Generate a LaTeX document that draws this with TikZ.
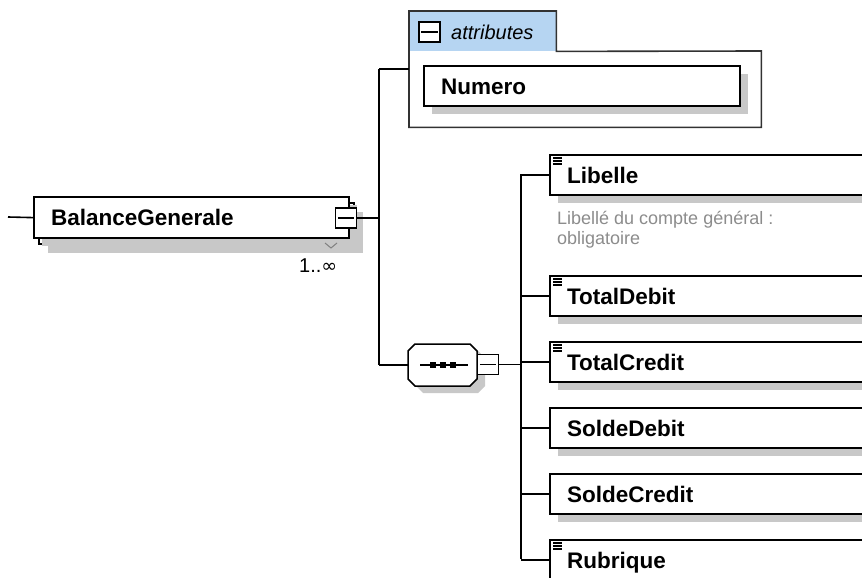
\documentclass[tikz,border=0pt]{standalone}
\usepackage{fontspec}
\setmainfont{Liberation Sans}
\newfontfamily\symfont{DejaVu Sans}
\usetikzlibrary{shadows,calc}
\definecolor{shadowgray}{RGB}{200,200,200}
\definecolor{tabblue}{RGB}{182,213,242}
\definecolor{descgray}{RGB}{140,140,140}
\definecolor{panelline}{RGB}{50,50,50}
\begin{document}
\begin{tikzpicture}[x=1pt,y=-1pt,
  conn/.style={draw=black, line width=1.6pt},
  boxshadow/.style={drop shadow={shadow xshift=#1, shadow yshift=-#1, fill=shadowgray, opacity=1}},
  elembox/.style={draw=black, line width=2.2pt, fill=white, rectangle, anchor=north west,
     minimum height=40pt, inner ysep=0pt, inner xsep=17pt, align=left,
     text height=16pt, text depth=0pt, font=\fontsize{22.5}{26}\selectfont\bfseries,
     boxshadow=8pt},
  togglebox/.style={draw=black, line width=1.5pt, fill=white, rectangle,
     minimum width=21pt, minimum height=20pt, inner sep=0pt},
  minusline/.style={line width=1.5pt},
  hidden/.style={rectangle, inner sep=0pt, anchor=north west},
  desctext/.style={anchor=north west, align=left, inner sep=0pt, text=descgray,
     font=\fontsize{18}{20}\selectfont},
  optmark/.style={line width=1.1pt}
]
\useasboundingbox (0,0) rectangle (862,578);
\fill[white] (0,0) rectangle (862,578);
\clip (0,0) rectangle (862,578);

% ---------- root element ----------
\coordinate (rootin) at (8,217);
\node[hidden, draw=black, line width=2.2pt, fill=white, minimum width=315pt, minimum height=41pt, boxshadow=9pt] (bgback) at (38,202) {};
\node[elembox, text width=281pt, minimum height=41pt, drop shadow={opacity=0}] (bg) at (33,196) {BalanceGenerale};
\draw[line width=1pt, draw=gray] (325,243) -- (331,248) -- (337,243);
\node[togglebox] (bgtoggle) at (346,218) {};
\draw[minusline] ($(bgtoggle.west)+(3,0)$) -- ($(bgtoggle.east)+(-3,0)$);
\node[anchor=base west, inner sep=0pt, font=\fontsize{20}{24}\selectfont] (card) at (299,272) {1..{\symfont\fontsize{19}{22}\selectfont ∞}};
\draw[conn] (rootin) -- (bg.west);

% ---------- trunk 1 ----------
\coordinate (ta) at (379,69);
\coordinate (tb) at (379,365);
\draw[conn] (bgtoggle.east) -- (bgtoggle.east -| ta);
\draw[conn] (ta) -- (tb);

% ---------- attributes panel ----------
\node[hidden, fill=tabblue, minimum width=147pt, minimum height=40pt] (attrtab) at (409,11) {};
\node[hidden, minimum width=352pt, minimum height=76pt] (attrbody) at (409,51) {};
\draw[panelline, line width=1.6pt] (attrbody.south west) -- (attrtab.north west) -- (attrtab.north east)
   -- (attrtab.south east) -- (attrbody.north east) -- (attrbody.south east) -- cycle;
\node[togglebox] (attrtoggle) at (429.5,32) {};
\draw[minusline] ($(attrtoggle.west)+(3,0)$) -- ($(attrtoggle.east)+(-3,0)$);
\node[anchor=west, inner sep=0pt, font=\fontsize{20}{24}\selectfont\itshape] (attrlabel) at (451,32) {attributes};
\draw[conn] (ta) -- (ta -| attrbody.west);
\node[elembox, text width=282pt] (numero) at (423,65) {Numero};

% ---------- sequence compositor ----------
\node[rectangle, minimum width=69pt, minimum height=42pt, inner sep=0pt] (seq) at (442.5,365) {};
\begin{scope}[shift={(seq.center)}]
  \fill[shadowgray, shift={(8,7)}] (-27.5,-21) -- (27.5,-21) -- (34.5,-14) -- (34.5,14) -- (27.5,21)
     -- (-27.5,21) -- (-34.5,14) -- (-34.5,-14) -- cycle;
  \draw[line width=1.5pt, fill=white] (-27.5,-21) -- (27.5,-21) -- (34.5,-14) -- (34.5,14) -- (27.5,21)
     -- (-27.5,21) -- (-34.5,14) -- (-34.5,-14) -- cycle;
  \draw[line width=1.5pt] (-22.5,0) -- (25.5,0);
  \foreach \sx in {-9.5,0.5,10.5} \fill[black] (\sx-2.7,-2.7) rectangle (\sx+2.7,2.7);
\end{scope}
\node[togglebox] (seqtoggle) at (488,364.5) {};
\draw[minusline] ($(seqtoggle.west)+(3,0)$) -- ($(seqtoggle.east)+(-3,0)$);
\draw[conn] (tb) -- (seq.west);

% ---------- trunk 2 ----------
\coordinate (ua) at (521,174);
\coordinate (ub) at (521,559);
\draw[conn] (seqtoggle.east) -- (seqtoggle.east -| ua);
\draw[conn] (ua) -- (ub);

% ---------- children ----------
\node[elembox, text width=300pt] (libelle) at (549,154) {Libelle};
\node[desctext] (libdesc) at (557,211.5) {Libellé du compte général :\\obligatoire};
\node[elembox, text width=300pt] (totaldebit) at (549,275) {TotalDebit};
\node[elembox, text width=300pt] (totalcredit) at (549,341) {TotalCredit};
\node[elembox, text width=300pt] (soldedebit) at (549,407) {SoldeDebit};
\node[elembox, text width=300pt] (soldecredit) at (549,473) {SoldeCredit};
\node[elembox, text width=300pt] (rubrique) at (549,539) {Rubrique};

\foreach \n in {libelle,totaldebit,totalcredit,soldedebit,soldecredit,rubrique}
  \draw[conn] (\n.west -| ua) -- (\n.west);

\foreach \n in {libelle,totaldebit,totalcredit,rubrique}
  \foreach \dy in {4,7,10}
    \draw[optmark] ($(\n.north west)+(4,\dy)$) -- ++(9,0);
\end{tikzpicture}
\end{document}
